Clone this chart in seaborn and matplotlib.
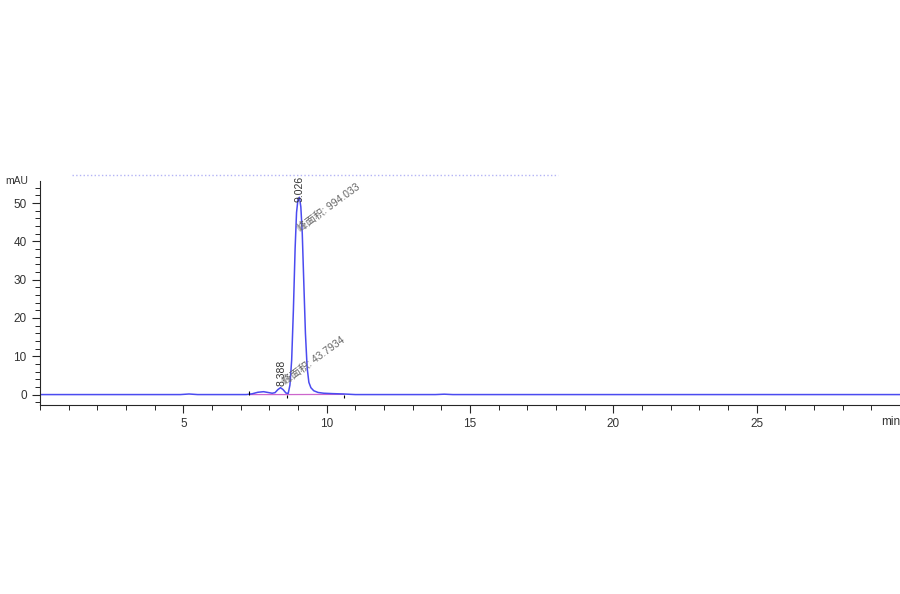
import matplotlib
matplotlib.use("Agg")
import matplotlib.pyplot as plt
from matplotlib.lines import Line2D
from matplotlib.ticker import MultipleLocator
import seaborn as sns
import pandas as pd

# chromatogram trace (time in min, signal in mAU)
time_min = [0.0, 4.9, 5.2, 5.5, 7.2, 7.4, 7.6, 7.8, 7.95, 8.1, 8.2, 8.3, 8.39, 8.48,
            8.58, 8.66, 8.72, 8.78, 8.84, 8.9, 8.95, 9.0, 9.05, 9.1, 9.15, 9.2,
            9.26, 9.32, 9.38, 9.45, 9.55, 9.7, 9.9, 10.2, 10.6, 11.0, 13.8, 14.1,
            14.4, 30.0]
signal_mau = [0.0, 0.0, 0.15, 0.0, 0.0, 0.2, 0.6, 0.75, 0.55, 0.35, 0.5, 1.3, 1.8, 1.3,
              0.4, 0.3, 2.5, 9.0, 22.0, 38.0, 47.5, 51.0, 51.5, 49.0, 42.0, 30.0,
              16.0, 7.0, 3.2, 1.8, 1.0, 0.55, 0.35, 0.25, 0.15, 0.0, 0.0, 0.1,
              0.0, 0.0]

# integration baseline
base_t = [7.3, 8.62, 10.6]
base_y = [0.0, 0.0, 0.05]

# peak labels
peak_rt = [8.388, 9.026]
peak_top = [2.3, 50.3]
area_labels = ["峰面积: 43.7934", "峰面积: 994.033"]
area_pos_t = [8.62, 9.14]
area_pos_y = [1.9, 42.0]

x_ticks = [5, 10, 15, 20, 25]
y_ticks = [0, 10, 20, 30, 40, 50]

trace = pd.DataFrame({"t": time_min, "mAU": signal_mau})
base = pd.DataFrame({"t": base_t, "mAU": base_y})

sns.set_style("ticks")
plt.rcParams["font.family"] = ["Liberation Sans", "Noto Sans CJK SC", "DejaVu Sans"]

fig = plt.figure(figsize=(9, 5.94), dpi=100)
ax = fig.add_axes([0.0444, 0.318, 0.9556, 0.377])

sns.lineplot(data=base, x="t", y="mAU", ax=ax, color="#cc66cc", lw=0.9,
             sort=False, estimator=None)
sns.lineplot(data=trace, x="t", y="mAU", ax=ax, color="#4b4bf0", lw=1.1,
             sort=False, estimator=None)

# baseline start/end marks
ax.vlines(base_t[0], base_y[0], 0.9, color="black", lw=0.8)
ax.vlines(base_t[1:], -0.9, 0, color="black", lw=0.8)

for rt, top in zip(peak_rt, peak_top):
    ax.text(rt + 0.04, top, f"{rt:.3f}", rotation=90, ha="center", va="bottom",
            fontsize=7.5, color="#333333")
for lab, tx, ty in zip(area_labels, area_pos_t, area_pos_y):
    ax.text(tx, ty, lab, rotation=36, rotation_mode="anchor", ha="left", va="bottom",
            fontsize=7.5, color="#666666",
            family=["Liberation Sans", "Noto Sans CJK SC", "DejaVu Sans"])

ax.set_xlim(0, 30)
ax.set_ylim(-2.75, 55.7)
ax.set_xticks(x_ticks)
ax.set_yticks(y_ticks)
ax.xaxis.set_minor_locator(MultipleLocator(1))
ax.yaxis.set_minor_locator(MultipleLocator(2))
ax.tick_params(which="major", length=6, width=0.8, labelsize=8.5, labelcolor="#333333")
ax.tick_params(which="minor", length=3.5, width=0.7)
ax.set_xlabel("")
ax.set_ylabel("")
sns.despine(ax=ax)
for s in ["left", "bottom"]:
    ax.spines[s].set_linewidth(0.8)

ax.text(-0.04, 1.0, "mAU", transform=ax.transAxes, ha="left", va="center",
        fontsize=7.5, color="#333333")
ax.text(1.0, -0.05, "min", transform=ax.transAxes, ha="right", va="top",
        fontsize=8.5, color="#333333", clip_on=False)

# faint cut-off header line above the plot
fig.add_artist(Line2D([0.08, 0.62], [0.706, 0.706], ls=":", lw=1.0, color="#b4b4f5"))

fig.savefig("out.png", dpi=100, facecolor="white")
